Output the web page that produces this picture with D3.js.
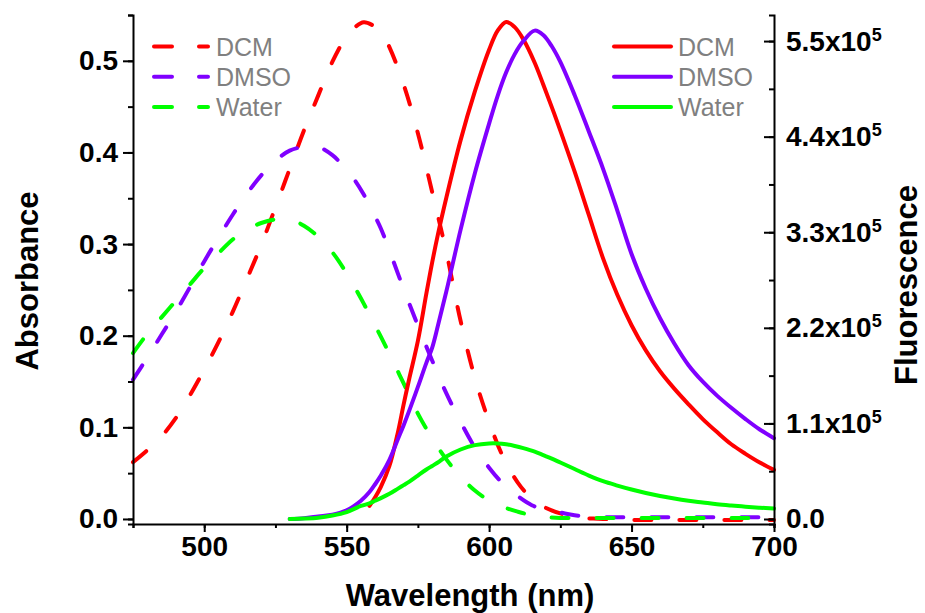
<!DOCTYPE html>
<html>
<head>
<meta charset="utf-8">
<script src="https://cdn.jsdelivr.net/npm/d3@7"></script>
<style>
  body { margin: 0; background: #fff; }
  text { font-family: "Liberation Sans", Arial, sans-serif; }
</style>
</head>
<body>
<div id="chart"></div>
<script>
// absorbance (dashed), wavelength in nm
const absWl = [475, 480, 485, 490, 495, 500, 505, 510, 515, 520, 525, 530, 535, 540, 545, 550, 553, 556, 559, 562, 565, 570, 575, 580, 585, 590, 595, 600, 605, 610, 615, 620, 625, 630, 640, 650, 660, 670, 680, 690, 700];
const absDCM = [0.062, 0.075, 0.090, 0.110, 0.135, 0.163, 0.193, 0.226, 0.262, 0.299, 0.340, 0.382, 0.424, 0.462, 0.499, 0.527, 0.537, 0.542, 0.539, 0.532, 0.515, 0.474, 0.421, 0.357, 0.291, 0.216, 0.154, 0.106, 0.067, 0.040, 0.022, 0.012, 0.006, 0.002, 0.000, -0.001, -0.001, -0.001, -0.001, -0.001, -0.001];
const absDMSO = [0.152, 0.176, 0.201, 0.226, 0.253, 0.281, 0.307, 0.332, 0.355, 0.375, 0.391, 0.402, 0.406, 0.406, 0.397, 0.381, 0.369, 0.354, 0.336, 0.317, 0.293, 0.251, 0.211, 0.173, 0.137, 0.106, 0.078, 0.056, 0.038, 0.025, 0.015, 0.010, 0.007, 0.004, 0.002, 0.002, 0.002, 0.002, 0.002, 0.002, 0.002];
const absWater = [0.181, 0.202, 0.220, 0.238, 0.256, 0.274, 0.290, 0.305, 0.316, 0.323, 0.327, 0.327, 0.320, 0.308, 0.291, 0.268, 0.252, 0.235, 0.217, 0.199, 0.180, 0.148, 0.115, 0.088, 0.065, 0.046, 0.031, 0.020, 0.013, 0.008, 0.004, 0.002, 0.001, 0.001, 0.001, 0.001, 0.001, 0.001, 0.001, 0.001, 0.001];

// fluorescence (solid), in units of 1e5
const flWl = [530, 535, 540, 545, 550, 555, 558, 560, 562, 565, 568, 570, 572, 575, 578, 580, 582, 585, 590, 595, 600, 603, 606, 609, 612, 616, 619, 622, 625, 630, 635, 640, 645, 650, 655, 660, 665, 670, 675, 680, 685, 690, 695, 700];
const flDCM = [null, null, null, null, null, null, 0.15, 0.25, 0.37, 0.61, 1.00, 1.32, 1.62, 2.05, 2.60, 2.95, 3.27, 3.70, 4.36, 4.92, 5.40, 5.62, 5.72, 5.66, 5.52, 5.25, 5.00, 4.74, 4.47, 4.00, 3.50, 3.00, 2.58, 2.23, 1.94, 1.70, 1.50, 1.32, 1.15, 1.00, 0.86, 0.75, 0.65, 0.565];
const flDMSO = [0.00, 0.01, 0.03, 0.05, 0.10, 0.21, 0.31, 0.40, 0.50, 0.68, 0.92, 1.08, 1.25, 1.52, 1.80, 1.97, 2.22, 2.62, 3.33, 3.98, 4.55, 4.87, 5.14, 5.35, 5.50, 5.62, 5.57, 5.44, 5.26, 4.88, 4.46, 4.03, 3.55, 3.05, 2.65, 2.31, 2.02, 1.77, 1.58, 1.42, 1.28, 1.15, 1.03, 0.93];
const flWater = [0.00, 0.005, 0.015, 0.04, 0.08, 0.15, 0.18, 0.21, 0.24, 0.29, 0.35, 0.39, 0.43, 0.50, 0.57, 0.61, 0.65, 0.72, 0.80, 0.85, 0.87, 0.87, 0.86, 0.84, 0.815, 0.775, 0.735, 0.695, 0.65, 0.575, 0.50, 0.435, 0.385, 0.34, 0.30, 0.265, 0.235, 0.21, 0.19, 0.17, 0.155, 0.142, 0.13, 0.12];

const solvents = ["DCM", "DMSO", "Water"];
const colors = ["#ff0000", "#8000ff", "#00ff00"];

const xTicks = [500, 550, 600, 650, 700];
const yLeftTicks = [0.0, 0.1, 0.2, 0.3, 0.4, 0.5];
const yRightTicks = [0, 1.1, 2.2, 3.3, 4.4, 5.5];

const svg = d3.select("#chart").append("svg")
    .attr("width", 925)
    .attr("height", 613)
    .style("background", "#fff");

const x = d3.scaleLinear().domain([475, 700]).range([133, 774]);
const yL = d3.scaleLinear().domain([-0.0055, 0.55]).range([524, 15]);
const yR = d3.scaleLinear().domain([-0.0575, 5.8]).range([524, 15]);

// curves
const absSeries = [absDCM, absDMSO, absWater];
const flSeries = [flDCM, flDMSO, flWater];

const lineAbs = d3.line()
    .defined(d => d[1] != null)
    .x(d => x(d[0])).y(d => yL(d[1]))
    .curve(d3.curveCatmullRom.alpha(0.5));
const lineFl = d3.line()
    .defined(d => d[1] != null)
    .x(d => x(d[0])).y(d => yR(d[1]))
    .curve(d3.curveCatmullRom.alpha(0.5));

absSeries.forEach((s, i) => {
    svg.append("path")
        .datum(absWl.map((w, j) => [w, s[j]]))
        .attr("d", lineAbs)
        .attr("fill", "none")
        .attr("stroke", colors[i])
        .attr("stroke-width", 4)
        .attr("stroke-linecap", "round")
        .attr("stroke-dasharray", "17,28");
});
flSeries.forEach((s, i) => {
    svg.append("path")
        .datum(flWl.map((w, j) => [w, s[j]]))
        .attr("d", lineFl)
        .attr("fill", "none")
        .attr("stroke", colors[i])
        .attr("stroke-width", 4)
        .attr("stroke-linecap", "round");
});

// axes
function styleAxis(g) {
    g.select(".domain").attr("stroke", "#000").attr("stroke-width", 2);
    g.selectAll(".tick line").attr("stroke", "#000").attr("stroke-width", 2);
    g.selectAll(".tick text")
        .attr("fill", "#000")
        .style("font-family", "Liberation Sans, Arial, sans-serif")
        .style("font-weight", "bold")
        .style("font-size", "28px");
}

// bottom
svg.append("g").attr("transform", "translate(0,524)")
    .call(d3.axisBottom(x).tickValues(d3.range(475, 701, 25)).tickSize(4).tickFormat(""))
    .call(styleAxis);
svg.append("g").attr("transform", "translate(0,524)")
    .call(d3.axisBottom(x).tickValues(xTicks).tickSize(8).tickPadding(4).tickFormat(d3.format("d")))
    .call(styleAxis)
    .call(g => g.select(".domain").remove());

// left
svg.append("g").attr("transform", "translate(133,0)")
    .call(d3.axisLeft(yL).tickValues(d3.range(0, 0.551, 0.05)).tickSize(5).tickFormat(""))
    .call(styleAxis);
svg.append("g").attr("transform", "translate(133,0)")
    .call(d3.axisLeft(yL).tickValues(yLeftTicks).tickSize(10).tickPadding(5).tickFormat(d3.format(".1f")))
    .call(styleAxis)
    .call(g => g.select(".domain").remove());

// right (ticks inward)
svg.append("g").attr("transform", "translate(774,0)")
    .call(d3.axisRight(yR).tickValues(d3.range(0, 5.81, 0.55)).tickSize(-5).tickFormat(""))
    .call(styleAxis);
const rAxis = svg.append("g").attr("transform", "translate(774,0)")
    .call(d3.axisRight(yR).tickValues(yRightTicks).tickSize(-10).tickPadding(12).tickFormat(""))
    .call(styleAxis)
    .call(g => g.select(".domain").remove());
rAxis.selectAll(".tick text").each(function(d) {
    const t = d3.select(this);
    if (d === 0) {
        t.text("0.0");
        return;
    }
    t.append("tspan").text(d3.format(".1f")(d) + "x10");
    t.append("tspan").attr("dy", -10).style("font-size", "18px").text("5");
});

// axis titles
const titleStyle = t => t
    .attr("fill", "#000")
    .style("font-weight", "bold")
    .style("font-size", "31px")
    .attr("text-anchor", "middle");

svg.append("text").attr("x", 470).attr("y", 606).text("Wavelength (nm)").call(titleStyle);
svg.append("text").attr("transform", "translate(38,281) rotate(-90)").text("Absorbance").call(titleStyle);
svg.append("text").attr("transform", "translate(917,285) rotate(-90)").text("Fluorescence").call(titleStyle);

// legends
function legend(x0, x1, tx, dashed) {
    solvents.forEach((name, i) => {
        const yy = 46.5 + i * 30.3;
        svg.append("line")
            .attr("x1", x0).attr("x2", x1)
            .attr("y1", yy).attr("y2", yy)
            .attr("stroke", colors[i])
            .attr("stroke-width", 4)
            .attr("stroke-linecap", "round")
            .attr("stroke-dasharray", dashed ? "18,27" : null);
        svg.append("text")
            .attr("x", tx).attr("y", yy + 9)
            .attr("fill", "#808080")
            .style("font-size", "25px")
            .text(name);
    });
}
legend(154, 208, 216, true);
legend(614, 671, 678, false);
</script>
</body>
</html>
